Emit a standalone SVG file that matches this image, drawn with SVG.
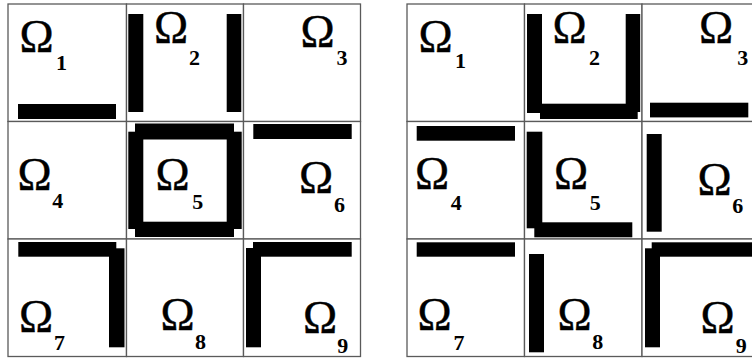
<svg xmlns="http://www.w3.org/2000/svg" width="752" height="359" viewBox="0 0 752 359">
<style>
.cell{fill:#fff;stroke:#5a5a5a;stroke-width:1.3}
.bar{fill:#000}
.om{font-family:"Liberation Serif","Times New Roman",serif;font-size:46px;fill:#000;stroke:#000;stroke-width:0.4}
.sub{font-family:"Liberation Serif","Times New Roman",serif;font-size:22px;font-weight:bold;fill:#000}
</style>
<rect width="752" height="359" fill="#fff"/>
<g id="left-grid">
<g id="L1"><rect class="cell" x="8" y="4" width="118.5" height="117.5"/><rect class="bar" x="18" y="104" width="98" height="15"/><text class="om" x="19.5" y="52">Ω</text><text class="sub" x="56" y="70">1</text></g>
<g id="L2"><rect class="cell" x="126.5" y="4" width="117" height="117.5"/><rect class="bar" x="128.3" y="14" width="15" height="98"/><rect class="bar" x="226.7" y="14" width="14.6" height="98"/><text class="om" x="154" y="43.3">Ω</text><text class="sub" x="189" y="65">2</text></g>
<g id="L3"><rect class="cell" x="243.5" y="4" width="117" height="117.5"/><text class="om" x="300.5" y="46.7">Ω</text><text class="sub" x="336.5" y="65">3</text></g>
<g id="L4"><rect class="cell" x="8" y="121.5" width="118.5" height="117.5"/><text class="om" x="17.5" y="190">Ω</text><text class="sub" x="52.3" y="207.7">4</text></g>
<g id="L5"><rect class="cell" x="126.5" y="121.5" width="117" height="117.5"/><rect class="bar" x="135" y="123.5" width="99" height="16"/><rect class="bar" x="135" y="221.7" width="99" height="15.3"/><rect class="bar" x="128.3" y="131.7" width="15" height="97.3"/><rect class="bar" x="226.7" y="131.7" width="15" height="97.3"/><text class="om" x="155.5" y="190">Ω</text><text class="sub" x="192.3" y="209.3">5</text></g>
<g id="L6"><rect class="cell" x="243.5" y="121.5" width="117" height="117.5"/><rect class="bar" x="253.3" y="124" width="98.4" height="15"/><text class="om" x="299" y="192.7">Ω</text><text class="sub" x="334" y="211.7">6</text></g>
<g id="L7"><rect class="cell" x="8" y="239" width="118.5" height="117.5"/><rect class="bar" x="18.3" y="242" width="98" height="14.7"/><rect class="bar" x="109" y="248.3" width="15.5" height="99"/><text class="om" x="19" y="331.7">Ω</text><text class="sub" x="54" y="350">7</text></g>
<g id="L8"><rect class="cell" x="126.5" y="239" width="117" height="117.5"/><text class="om" x="160.5" y="330">Ω</text><text class="sub" x="195" y="349">8</text></g>
<g id="L9"><rect class="cell" x="243.5" y="239" width="117" height="117.5"/><rect class="bar" x="246" y="248" width="15" height="99.3"/><rect class="bar" x="253" y="242" width="98.7" height="14.7"/><text class="om" x="303" y="333.3">Ω</text><text class="sub" x="337.3" y="353.3">9</text></g>
</g>
<g id="right-grid">
<g id="R1"><rect class="cell" x="407" y="4" width="117.5" height="117.5"/><text class="om" x="418.5" y="51.7">Ω</text><text class="sub" x="455" y="68.3">1</text></g>
<g id="R2"><rect class="cell" x="524.5" y="4" width="117.5" height="117.5"/><rect class="bar" x="527" y="14" width="15" height="99"/><rect class="bar" x="625.7" y="14" width="14.5" height="98"/><rect class="bar" x="540" y="103.7" width="97.7" height="15.3"/><text class="om" x="552.5" y="43.3">Ω</text><text class="sub" x="589" y="65">2</text></g>
<g id="R3"><rect class="cell" x="642" y="4" width="117.5" height="117.5"/><rect class="bar" x="650" y="102.7" width="98.3" height="14.7"/><text class="om" x="699" y="43.3">Ω</text><text class="sub" x="737.3" y="65">3</text></g>
<g id="R4"><rect class="cell" x="407" y="121.5" width="117.5" height="117.5"/><rect class="bar" x="416.7" y="126" width="98.3" height="14.7"/><text class="om" x="415" y="189">Ω</text><text class="sub" x="450.7" y="210">4</text></g>
<g id="R5"><rect class="cell" x="524.5" y="121.5" width="117.5" height="117.5"/><rect class="bar" x="526.7" y="131.7" width="15.6" height="96.6"/><rect class="bar" x="534.3" y="222.3" width="98" height="15"/><text class="om" x="554" y="189">Ω</text><text class="sub" x="589.7" y="210">5</text></g>
<g id="R6"><rect class="cell" x="642" y="121.5" width="117.5" height="117.5"/><rect class="bar" x="646.7" y="134" width="15" height="97.7"/><text class="om" x="697.5" y="195">Ω</text><text class="sub" x="732.3" y="213.3">6</text></g>
<g id="R7"><rect class="cell" x="407" y="239" width="117.5" height="117.5"/><rect class="bar" x="416.7" y="242.3" width="98.3" height="14.4"/><text class="om" x="417.5" y="330">Ω</text><text class="sub" x="453.5" y="350">7</text></g>
<g id="R8"><rect class="cell" x="524.5" y="239" width="117.5" height="117.5"/><rect class="bar" x="529" y="254" width="15" height="98.3"/><text class="om" x="557.5" y="330">Ω</text><text class="sub" x="592.3" y="349">8</text></g>
<g id="R9"><rect class="cell" x="642" y="239" width="117.5" height="117.5"/><rect class="bar" x="645" y="248.3" width="15" height="99"/><rect class="bar" x="651.7" y="242.3" width="110" height="14.4"/><text class="om" x="700.5" y="333.3">Ω</text><text class="sub" x="735.7" y="353.3">9</text></g>
</g>
<g id="connectors"/>
</svg>
